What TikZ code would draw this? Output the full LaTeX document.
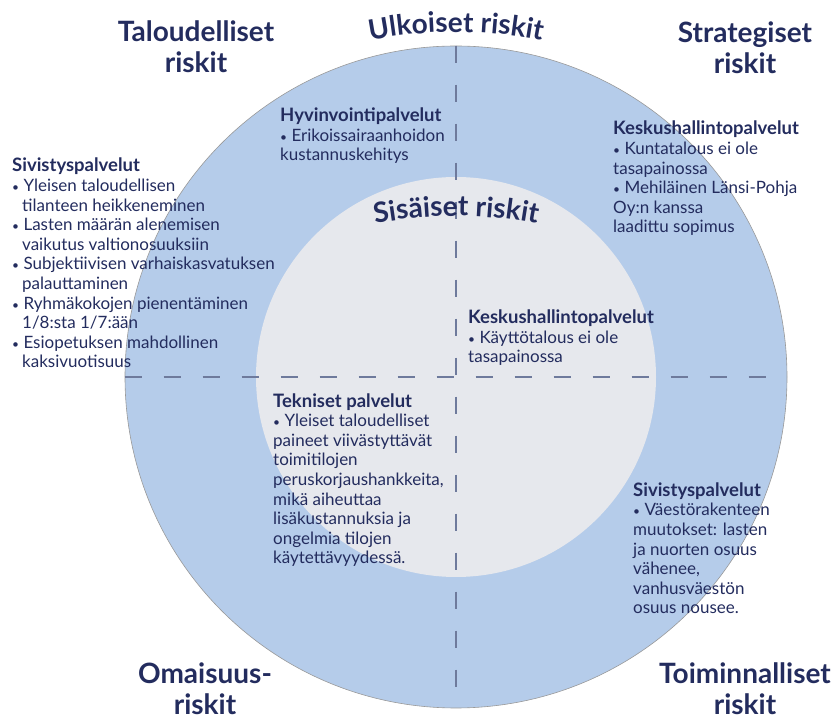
\documentclass[tikz,border=0pt]{standalone}
\usepackage{fontspec}
\setmainfont{Lato}
\usetikzlibrary{positioning,decorations.text}
\definecolor{riskblue}{RGB}{181,204,234}
\definecolor{riskgrey}{RGB}{230,232,237}
\definecolor{risknavy}{RGB}{35,44,94}
\definecolor{riskdash}{RGB}{110,122,156}
\newcommand{\blt}{{\fontsize{12}{12}\selectfont•}\ }
\newcommand{\hd}[1]{{\fontsize{18.5}{19.6}\selectfont\bfseries #1}}
\tikzset{
ring/.style = {circle, inner sep=0pt},
cornerhead/.style = {align=center, inner sep=0pt, anchor=base, text=risknavy, font=\fontsize{28}{31}\selectfont\bfseries},
infoblock/.style = {align=left, inner sep=0pt, anchor=base west, text=risknavy, font=\fontsize{17}{19.6}\selectfont},
axisline/.style = {draw=riskdash, line width=1.3pt, dash pattern=on 17pt off 22pt},
arctext/.style = {decorate, decoration={text along path, text align=center, text={#1}}}
}

\begin{document}
\begin{tikzpicture}[x=1pt, y=1pt]
  \useasboundingbox (0,0) rectangle (836,720);
  % the two rings
  \node [ring, fill=riskblue, draw=black!40, line width=0.6pt, minimum size=662pt] (outer) at (456,343) {};
  \node [ring, fill=riskgrey, minimum size=400pt] (inner) at (outer.center) {};
  \draw [axisline] (outer.north) -- (outer.south);
  \draw [axisline] (outer.west) -- (outer.east);
  % curved titles
  \coordinate (ulkoc) at (456,238);
  \coordinate (sisac) at (456,74);
  \path [arctext={|\color{risknavy}\fontsize{28}{30}\selectfont\bfseries|Ulkoiset riskit}]
    ([shift={(120:450)}]ulkoc) arc [start angle=120, end angle=60, radius=450];
  \path [arctext={|\color{risknavy}\fontsize{28}{30}\selectfont\bfseries|Sisäiset riskit}]
    ([shift={(120:430)}]sisac) arc [start angle=120, end angle=60, radius=430];
  % corner titles (base = last line)
  \node [cornerhead] (talous) at (196,647) {Taloudelliset\\riskit};
  \node [cornerhead] (strategia) at (745,646) {Strategiset\\riskit};
  \node [cornerhead] (omaisuus) at (205,5) {Omaisuus-\\riskit};
  \node [cornerhead] (toiminta) at (745,5) {Toiminnalliset\\riskit};
  % text blocks (base = last line)
  \node [infoblock] (sivist1) at (12,352) {\hd{Sivistyspalvelut}\\
    \blt Yleisen taloudellisen\\\hspace*{10pt}tilanteen heikkeneminen\\
    \blt Lasten määrän alenemisen\\\hspace*{10pt}vaikutus valtionosuuksiin\\
    \blt Subjektiivisen varhaiskasvatuksen\\\hspace*{10pt}palauttaminen\\
    \blt Ryhmäkokojen pienentäminen\\\hspace*{10pt}1/8:sta 1/7:ään\\
    \blt Esiopetuksen mahdollinen\\\hspace*{10pt}kaksivuotisuus};
  \node [infoblock] (hyvin) at (280,559) {\hd{Hyvinvointipalvelut}\\
    \blt Erikoissairaanhoidon\\kustannuskehitys};
  \node [infoblock] (keskus1) at (613,487) {\hd{Keskushallintopalvelut}\\
    \blt Kuntatalous ei ole\\tasapainossa\\
    \blt Mehiläinen Länsi-Pohja\\Oy:n kanssa\\laadittu sopimus};
  \node [infoblock] (keskus2) at (468,357) {\hd{Keskushallintopalvelut}\\
    \blt Käyttötalous ei ole\\tasapainossa};
  \node [infoblock] (tekn) at (273,156) {\hd{Tekniset palvelut}\\
    \blt Yleiset taloudelliset\\paineet viivästyttävät\\toimitilojen\\
    peruskorjaushankkeita,\\mikä aiheuttaa\\lisäkustannuksia ja\\
    ongelmia tilojen\\käytettävyydessä.};
  \node [infoblock] (sivist2) at (633,106) {\hd{Sivistyspalvelut}\\
    \blt Väestörakenteen\\muutokset: lasten\\ja nuorten osuus\\
    vähenee,\\vanhusväestön\\osuus nousee.};
\end{tikzpicture}
\end{document}
